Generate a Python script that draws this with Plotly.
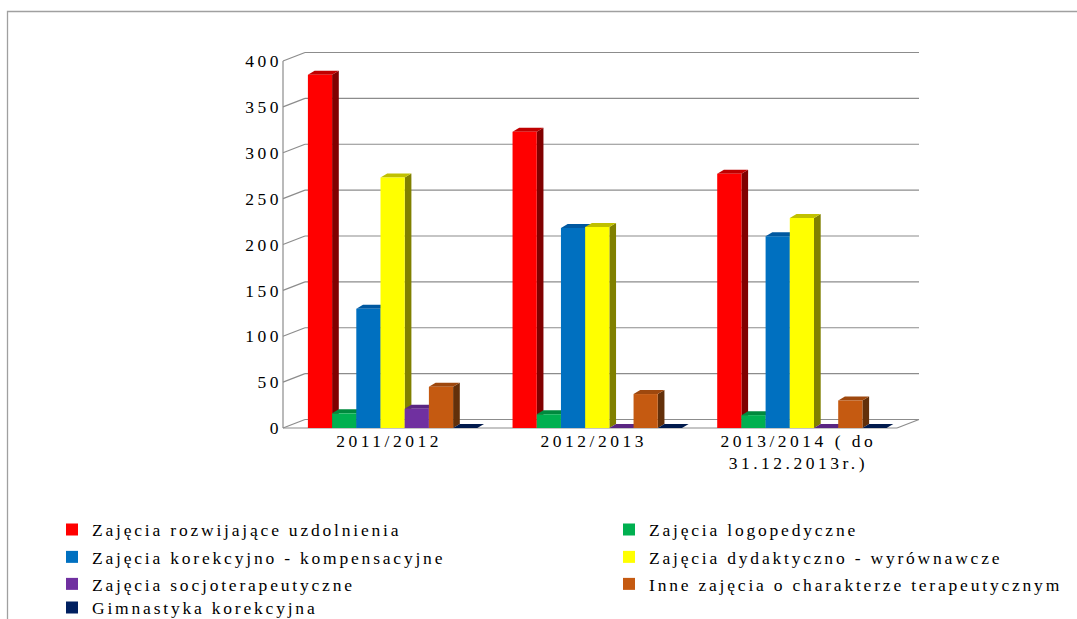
import plotly.graph_objects as go

# ---------------- data ----------------
categories = ["2011/2012", "2012/2013", "2013/2014 ( do<br>31.12.2013r.)"]
series_names = [
    "Zajęcia rozwijające uzdolnienia",
    "Zajęcia logopedyczne",
    "Zajęcia korekcyjno - kompensacyjne",
    "Zajęcia dydaktyczno - wyrównawcze",
    "Zajęcia socjoterapeutyczne",
    "Inne zajęcia o charakterze terapeutycznym",
    "Gimnastyka korekcyjna",
]
rozwijajace = [385, 323, 277]
logopedyczne = [16, 15, 14]
korekcyjno = [130, 218, 209]
dydaktyczno = [273, 219, 229]
socjoterapeutyczne = [21, 0, 0]
inne = [45, 37, 30]
gimnastyka = [0, 0, 0]
series_values = [rozwijajace, logopedyczne, korekcyjno, dydaktyczno,
                 socjoterapeutyczne, inne, gimnastyka]
y_ticks = [0, 50, 100, 150, 200, 250, 300, 350, 400]

# ---------------- styles ----------------
front_colors = ["#FF0000", "#00B050", "#0070C0", "#FFFF00", "#7030A0", "#C55A11", "#002060"]
top_colors = ["#C00000", "#008A3E", "#0058A0", "#C0C000", "#5A2682", "#9E480E", "#001A4D"]
side_colors = ["#800000", "#005C2A", "#003C66", "#808000", "#3C1A58", "#63300A", "#00102E"]
grid_color = "#8C8C8C"
FONT = "Liberation Serif, Times New Roman, serif"

# layout geometry (pixels)
FIG_W, FIG_H = 1077, 619
PL, PR, PT, PB = 283, 919, 52, 428
PXU = 204.65          # px per category
X0PX = 392.6          # px of first category centre
PYU = 0.9175          # px per value unit
XR = [(PL - X0PX) / PXU, (PR - X0PX) / PXU]
YR = [0, (PB - PT) / PYU]

BW = 24.2 / PXU                  # bar width
BDX, BDY = 6.7 / PXU, 4.0 / PYU  # bar depth
DX, DY = 22.0 / PXU, 8.5 / PYU   # wall depth
XF0 = XR[0]
XF1 = (897 - X0PX) / PXU
LABEL_SHIFT = -3.5 / PXU


def paper_x(xd):
    return (xd - XR[0]) / (XR[1] - XR[0])


def paper_y(yd):
    return (yd - YR[0]) / (YR[1] - YR[0])


shapes = []
# outer frame
shapes.append(dict(type="rect", xref="paper", yref="paper",
                   x0=(7.5 - PL) / (PR - PL), x1=(1090 - PL) / (PR - PL),
                   y0=(PB - 11.5) / (PB - PT), y1=(PB - 640) / (PB - PT),
                   line=dict(color="#A0A0A0", width=1.3), layer="below"))


def pline(xa, ya, xb, yb):
    shapes.append(dict(type="line", xref="paper", yref="paper",
                       x0=paper_x(xa), y0=paper_y(ya), x1=paper_x(xb), y1=paper_y(yb),
                       line=dict(color=grid_color, width=1.2), layer="below"))


ymax = max(y_ticks)
for t in y_ticks:
    pline(XF0 + DX, t + DY, XF1 + DX, t + DY)   # back wall grid
    pline(XF0, t, XF0 + DX, t + DY)             # left wall diagonals
pline(XF0, 0, XF0, ymax)                        # front vertical axis
pline(XF0, 0, XF1, 0)                           # floor front edge
pline(XF1, 0, XF1 + DX, DY)                     # floor right edge

fig = go.Figure()
n = len(series_names)
for i, (name, vals) in enumerate(zip(series_names, series_values)):
    off = -n / 2 * BW + i * BW
    for k, v in enumerate(vals):
        xl = k + off
        xr = xl + BW
        if v > 0:
            shapes.append(dict(type="path", xref="x", yref="y", layer="below",
                               path=f"M{xr},0 L{xr + BDX},{BDY} L{xr + BDX},{v + BDY} L{xr},{v} Z",
                               fillcolor=side_colors[i], line=dict(width=0)))
        shapes.append(dict(type="path", xref="x", yref="y", layer="below",
                           path=f"M{xl},{v} L{xr},{v} L{xr + BDX},{v + BDY} L{xl + BDX},{v + BDY} Z",
                           fillcolor=top_colors[i], line=dict(width=0)))
    fig.add_trace(go.Bar(
        x=list(range(len(categories))), y=vals, name=name,
        width=BW, offset=off,
        marker=dict(color=front_colors[i], line=dict(width=0)),
        legend="legend" if i == 0 else f"legend{i + 1}",
        hoverinfo="skip",
    ))

# legends: one per entry, two columns
row_centers = [529.5, 557, 584, 607.5]
col_left = [52, 609]
legend_layouts = {}
for i in range(n):
    r, c = divmod(i, 2)
    key = "legend" if i == 0 else f"legend{i + 1}"
    legend_layouts[key] = dict(
        x=(col_left[c] - PL) / (PR - PL), y=(PB - row_centers[r]) / (PB - PT),
        xanchor="left", yanchor="middle", orientation="h",
        entrywidth=500, entrywidthmode="pixels",
        bgcolor="rgba(0,0,0,0)", borderwidth=0,
        font=dict(family=FONT, size=17.5, color="#000000"),
    )

fig.update_layout(
    width=FIG_W, height=FIG_H,
    margin=dict(l=PL, r=FIG_W - PR, t=PT, b=FIG_H - PB, autoexpand=False),
    paper_bgcolor="white", plot_bgcolor="rgba(0,0,0,0)",
    barmode="overlay",
    showlegend=True,
    shapes=shapes,
    xaxis=dict(range=XR, showgrid=False, zeroline=False, showline=False,
               tickmode="array",
               tickvals=[k + LABEL_SHIFT for k in range(len(categories))],
               ticktext=categories, ticks="",
               tickfont=dict(family=FONT, size=17.5, color="#000000")),
    yaxis=dict(range=YR, showgrid=False, zeroline=False, showline=False,
               tickmode="array", tickvals=y_ticks,
               ticktext=[str(t) for t in y_ticks], ticks="",
               tickfont=dict(family=FONT, size=17.5, color="#000000")),
    **legend_layouts,
)

post = ("document.body.style.margin='0';"
        "var s=document.createElement('style');"
        "s.textContent='.main-svg text{letter-spacing:3.5px !important}"
        " .main-svg g[class^=\"legend\"] text{letter-spacing:2.8px !important}';"
        "document.head.appendChild(s);")

fig.write_html("out.html", post_script=post, config={"displayModeBar": False})
